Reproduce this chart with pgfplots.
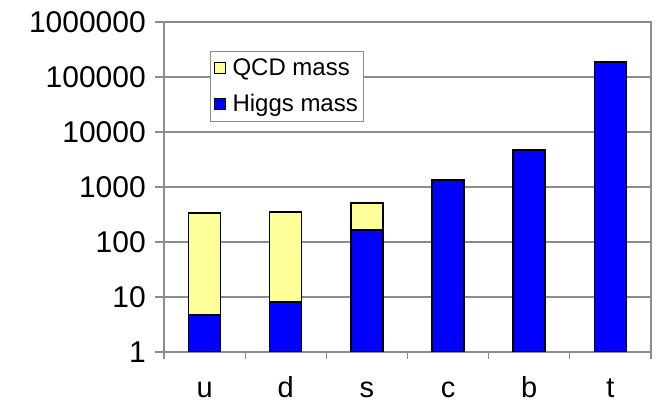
\documentclass[border=0pt]{standalone}
\usepackage{pgfplots}
\pgfplotsset{compat=1.18}
\usepackage{fontspec}
\setmainfont{Liberation Sans}
\definecolor{qcdyellow}{RGB}{255,255,153}
\definecolor{higgsblue}{RGB}{0,0,255}
\definecolor{gridgray}{RGB}{140,140,140}
\begin{document}
\begin{tikzpicture}
\useasboundingbox (0,0) rectangle (657bp,408bp);
\begin{axis}[
  at={(164bp,56bp)}, anchor=south west,
  scale only axis, width=487bp, height=330bp,
  ymode=log, ymin=1, ymax=1e6,
  xmin=-0.5, xmax=5.5,
  xtick={0,1,2,3,4,5}, xticklabels={u,d,s,c,b,t},
  minor xtick={-0.5,0.5,1.5,2.5,3.5,4.5,5.5},
  major x tick style={draw=none},
  minor tick length=7bp,
  ytick={1,10,100,1000,10000,100000,1000000},
  yticklabels={1,10,100,1000,10000,100000,1000000},
  yminorticks=false,
  major tick length=9bp,
  tick align=outside,
  xtick pos=bottom, ytick pos=left,
  ymajorgrids,
  grid style={gridgray, line width=1.3bp},
  axis line style={gridgray, line width=1.3bp},
  tick style={gridgray, line width=1.3bp},
  /pgf/number format/assume math mode=true,
  yticklabel style={font=\fontsize{30bp}{32bp}\selectfont, inner sep=0pt, anchor=east, xshift=-9bp},
  xticklabel style={font=\fontsize{29bp}{31bp}\selectfont, inner sep=0pt, anchor=base, yshift=-37bp},
  legend style={at={(0.095,0.912)}, anchor=north west, draw=gridgray, line width=1bp,
    outer sep=0pt, fill=white, font=\fontsize{24bp}{26bp}\selectfont,
    inner xsep=4bp, inner ysep=6bp, row sep=13bp, cells={anchor=west}},
  legend cell align=left,
]
% total mass (QCD on top of the Higgs part)
\addplot[ybar, bar width=32bp, bar shift=0pt, fill=qcdyellow, draw=black, line width=1.5bp,
  legend image code/.code={\draw[fill=qcdyellow, draw=black, line width=1bp] (0bp,-5.5bp) rectangle (11bp,5.5bp); \path (15bp,0bp);}]
  coordinates {(0,337) (1,351) (2,512)};
\addlegendentry{QCD mass}
% Higgs mass
\addplot[ybar, bar width=32bp, bar shift=0pt, fill=higgsblue, draw=black, line width=1.5bp,
  legend image code/.code={\draw[fill=higgsblue, draw=black, line width=1bp] (0bp,-5.5bp) rectangle (11bp,5.5bp); \path (15bp,0bp);}]
  coordinates {(0,4.7) (1,8.1) (2,165) (3,1340) (4,4700) (5,187000)};
\addlegendentry{Higgs mass}
\end{axis}
\end{tikzpicture}
\end{document}
